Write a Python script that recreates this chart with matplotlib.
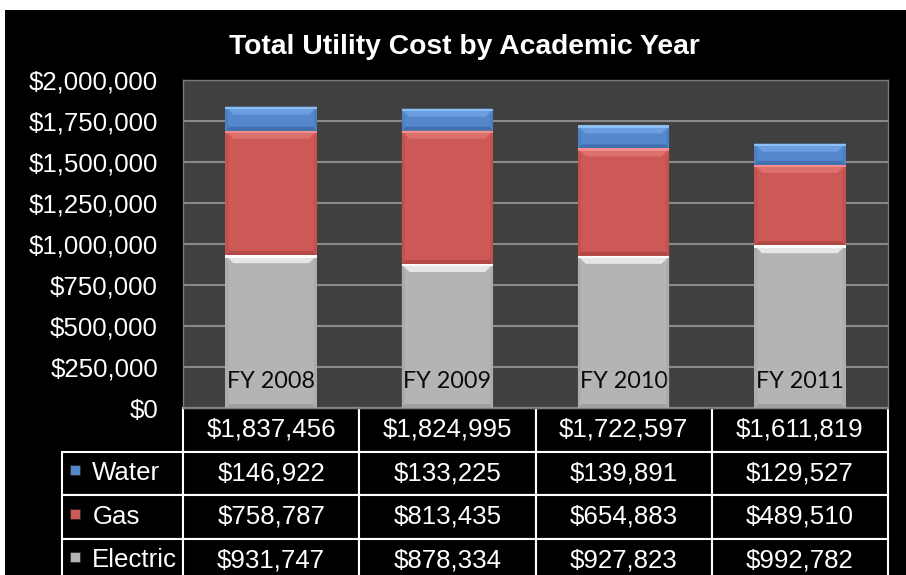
import matplotlib
matplotlib.use("Agg")
from matplotlib import pyplot as plt
from matplotlib.patches import Rectangle, Polygon
from matplotlib.ticker import FuncFormatter
import numpy as np

years = ["FY 2008", "FY 2009", "FY 2010", "FY 2011"]
electric = [931747, 878334, 927823, 992782]
gas = [758787, 813435, 654883, 489510]
water = [146922, 133225, 139891, 129527]
totals = [1837456, 1824995, 1722597, 1611819]
series = ["Water", "Gas", "Electric"]

col_electric = "#b4b4b4"
col_gas = "#cc5955"
col_water = "#5389cc"

W, H = 906, 575
fig = plt.figure(figsize=(W / 100, H / 100), dpi=100, facecolor="white")
fig.add_artist(Rectangle((5 / W, 0), 1, (H - 10) / H, transform=fig.transFigure,
                         facecolor="black", edgecolor="none", zorder=-10))

# plot area in pixels: x 183..888, y 80..408
ax = fig.add_axes([183 / W, (H - 408) / H, 705 / W, 328 / H])
ax.set_facecolor("#404040")
for s in ax.spines.values():
    s.set_color("#7a7a7a")
    s.set_linewidth(1)

x = np.arange(len(years))
bw = 0.52
e_bars = ax.bar(x, electric, bw, color=col_electric, zorder=3)
g_bars = ax.bar(x, gas, bw, bottom=electric, color=col_gas, zorder=3)
w_bars = ax.bar(x, water, bw, bottom=np.add(electric, gas), color=col_water, zorder=3)

ax.set_xlim(-0.5, 3.5)
ax.set_ylim(0, 2000000)
ax.set_yticks(np.arange(0, 2000001, 250000))
ax.yaxis.set_major_formatter(FuncFormatter(lambda v, p: "${:,.0f}".format(v)))
ax.tick_params(axis="y", length=0, pad=18, labelsize=18.6, labelcolor="white")
ax.set_xticks([])
for lab in ax.get_yticklabels():
    lab.set_family("Liberation Sans")
ax.grid(axis="y", color="#8a8a8a", linewidth=1.5, zorder=1)

# bevel shading on each segment
px_x = 4 / 705
px_y = 2000000 / 328
bev = 8


def bevel(bars, light, top_edge, dark):
    for r in bars:
        x0, y0 = r.get_x(), r.get_y()
        w, h = r.get_width(), r.get_height()
        dx, dy = bev * px_x, bev * px_y
        top = Polygon([(x0, y0 + h), (x0 + w, y0 + h), (x0 + w - dx, y0 + h - dy),
                       (x0 + dx, y0 + h - dy)], closed=True, facecolor=light,
                      edgecolor="none", zorder=4)
        edge = Rectangle((x0, y0 + h - 2.5 * px_y), w, 2.5 * px_y, facecolor=top_edge,
                         edgecolor="none", zorder=5)
        bot = Polygon([(x0, y0), (x0 + w, y0), (x0 + w - dx * 0.5, y0 + dy * 0.5),
                       (x0 + dx * 0.5, y0 + dy * 0.5)], closed=True, facecolor=dark,
                      edgecolor="none", zorder=4)
        left = Polygon([(x0, y0), (x0 + dx * 0.4, y0 + dy * 0.5),
                        (x0 + dx * 0.4, y0 + h - dy), (x0, y0 + h)], closed=True,
                       facecolor=dark, alpha=0.4, edgecolor="none", zorder=4)
        right = Polygon([(x0 + w, y0), (x0 + w - dx * 0.4, y0 + dy * 0.5),
                         (x0 + w - dx * 0.4, y0 + h - dy), (x0 + w, y0 + h)],
                        closed=True, facecolor=dark, alpha=0.4, edgecolor="none", zorder=4)
        for p in (top, edge, bot, left, right):
            ax.add_patch(p)


bevel(e_bars, "#e6e6e6", "#fbfbfb", "#a0a0a0")
bevel(g_bars, "#dc706c", "#f48e8a", "#b24845")
bevel(w_bars, "#6c9fdf", "#8cc0f4", "#426fae")

for i, yr in enumerate(years):
    ax.annotate(yr, xy=(i, 0), xytext=(0, 19), textcoords="offset points",
                ha="center", va="center", fontsize=16.8, color="#0a0a0a",
                family="Lato")

fig.text(464 / W, 1 - 47 / H, "Total Utility Cost by Academic Year", ha="center",
         va="center", fontsize=20.3, fontweight="bold", color="white",
         family=["Liberation Sans Narrow", "Liberation Sans"])

# data table below the plot area
fmt = lambda v: "${:,.0f}".format(v)
cell_text = [[fmt(v) for v in totals],
             [fmt(v) for v in water],
             [fmt(v) for v in gas],
             [fmt(v) for v in electric]]
row_labels = [""] + series
row_h = 43.5 / 328
tbl = ax.table(cellText=cell_text, rowLabels=row_labels, cellLoc="center",
               rowLoc="left", colWidths=[0.25] * 4,
               bbox=[0, -4 * row_h, 1, 4 * row_h])
tbl.auto_set_font_size(False)
tbl._autoColumns = []
label_w = 121 / 705
for (r, c), cell in tbl.get_celld().items():
    cell.set_facecolor("black")
    cell.set_edgecolor("white")
    cell.set_linewidth(1.5)
    cell.get_text().set_color("white")
    cell.get_text().set_fontsize(18.6)
    cell.get_text().set_family("Liberation Sans")
    if c == -1:
        cell.set_width(label_w)
        cell.PAD = 0.25
        if r == 0:
            cell.visible_edges = "open"

swatch = {"Water": col_water, "Gas": col_gas, "Electric": col_electric}
for k, name in enumerate(series):
    yc = -(k + 1.5) * row_h + 3 / 328
    ax.add_patch(Rectangle((-label_w + 8 / 705, yc - 5 / 328), 10 / 705, 10 / 328,
                           transform=ax.transAxes, clip_on=False,
                           facecolor=swatch[name], edgecolor="#222222", linewidth=0.5))

fig.savefig("out.png", dpi=100, facecolor=fig.get_facecolor())
